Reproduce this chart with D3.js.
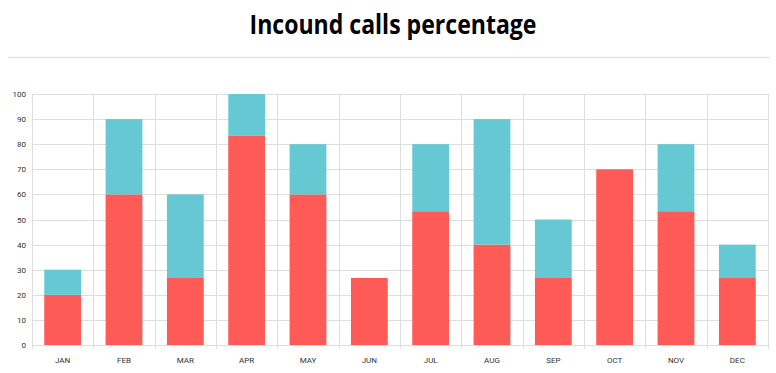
<!DOCTYPE html>
<html>
<head>
<meta charset="utf-8">
<script src="https://cdn.jsdelivr.net/npm/d3@7"></script>
<style>
  body { margin: 0; background: #fff; }
  svg { display: block; }
</style>
</head>
<body>
<script>
var months = ["JAN", "FEB", "MAR", "APR", "MAY", "JUN", "JUL", "AUG", "SEP", "OCT", "NOV", "DEC"];
var redValues = [20, 60, 26.7, 83.3, 60, 26.7, 53.3, 40, 26.7, 70, 53.3, 26.7];
var tealValues = [10, 30, 33.3, 16.7, 20, 0, 26.7, 50, 23.3, 0, 26.7, 13.3];
var yTicks = [0, 10, 20, 30, 40, 50, 60, 70, 80, 90, 100];

var width = 776, height = 373;
var margin = {left: 32, right: 8, top: 94, bottom: 28};

var svg = d3.select("body").append("svg")
    .attr("width", width).attr("height", height);

// title + separator
svg.append("text")
    .attr("x", 393).attr("y", 34)
    .attr("text-anchor", "middle")
    .attr("font-family", "'Open Sans', sans-serif")
    .attr("font-weight", "bold")
    .attr("font-size", 26)
    .attr("textLength", 287)
    .attr("lengthAdjust", "spacingAndGlyphs")
    .attr("fill", "#000")
    .text("Incound calls percentage");

svg.append("line")
    .attr("x1", 8).attr("x2", 770)
    .attr("y1", 57.5).attr("y2", 57.5)
    .attr("stroke", "#e2e2e2").attr("stroke-width", 1.5);

var x = d3.scaleBand().domain(months)
    .range([margin.left, width - margin.right])
    .paddingInner(0.4).paddingOuter(0.2);

var y = d3.scaleLinear().domain([0, 100])
    .range([height - margin.bottom, margin.top]);

var grid = svg.append("g");

// horizontal grid
grid.selectAll("line.h").data(yTicks).enter().append("line")
    .attr("class", "h")
    .attr("x1", margin.left).attr("x2", width - margin.right)
    .attr("y1", function(d) { return Math.round(y(d)) + 0.5; })
    .attr("y2", function(d) { return Math.round(y(d)) + 0.5; })
    .attr("stroke", "#dedede");

// vertical grid at band edges
var step = x.step();
var edges = d3.range(months.length + 1).map(function(i) { return margin.left + i * step; });
grid.selectAll("line.v").data(edges).enter().append("line")
    .attr("class", "v")
    .attr("x1", function(d) { return Math.round(d) + 0.5; })
    .attr("x2", function(d) { return Math.round(d) + 0.5; })
    .attr("y1", y(100)).attr("y2", y(0) + 4)
    .attr("stroke", "#dedede");

// stacked bars
var rows = months.map(function(m, i) {
  return {month: m, red: redValues[i], teal: tealValues[i]};
});
var stack = d3.stack().keys(["red", "teal"])(rows);
var colors = {red: "#fe5a56", teal: "#66c8d2"};

svg.selectAll("g.layer").data(stack).enter().append("g")
    .attr("class", "layer")
    .attr("fill", function(d) { return colors[d.key]; })
  .selectAll("rect").data(function(d) { return d; }).enter().append("rect")
    .attr("x", function(d) { return x(d.data.month); })
    .attr("width", x.bandwidth())
    .attr("y", function(d) { return y(d[1]); })
    .attr("height", function(d) { return y(d[0]) - y(d[1]); });

// axes labels
var yAxis = d3.axisLeft(y).tickValues(yTicks).tickSize(0).tickPadding(6);
var gy = svg.append("g").attr("transform", "translate(" + margin.left + ",0)").call(yAxis);
gy.select(".domain").remove();
gy.selectAll("text")
    .attr("font-family", "Roboto, sans-serif")
    .attr("font-size", 8)
    .attr("fill", "#333");

var xAxis = d3.axisBottom(x).tickSize(0).tickPadding(12);
var gx = svg.append("g").attr("transform", "translate(0," + y(0) + ")").call(xAxis);
gx.select(".domain").remove();
gx.selectAll("text")
    .attr("font-family", "Roboto, sans-serif")
    .attr("font-size", 8)
    .attr("fill", "#333");
</script>
</body>
</html>
